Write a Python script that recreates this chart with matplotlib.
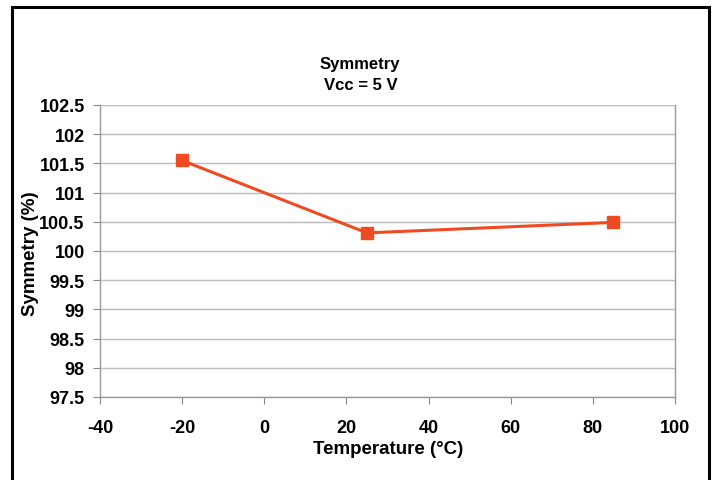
import matplotlib
matplotlib.use('Agg')
import matplotlib.pyplot as plt
from matplotlib.patches import Rectangle

# Data
temperature = [-20, 25, 85]
symmetry = [101.55, 100.31, 100.49]
x_ticks = [-40, -20, 0, 20, 40, 60, 80, 100]
y_ticks = [97.5, 98, 98.5, 99, 99.5, 100, 100.5, 101, 101.5, 102, 102.5]

plt.rcParams['font.family'] = ['Liberation Sans', 'DejaVu Sans']
plt.rcParams['font.weight'] = 'bold'
plt.rcParams['axes.unicode_minus'] = False

W, H = 715, 481
fig = plt.figure(figsize=(W / 100, H / 100), dpi=100)

# outer frame (bottom edge runs off the image)
fig.patches.append(Rectangle((12 / W, -0.05), 697 / W, 1.05 - 8 / H,
                             transform=fig.transFigure, fill=False,
                             edgecolor='black', linewidth=2.2, clip_on=False))

ax = fig.add_axes([100 / W, (H - 398) / H, 575 / W, 292 / H])

ax.plot(temperature, symmetry, color='#F04A23', linewidth=2.2,
        marker='s', markersize=8, zorder=3)

ax.set_xlim(-40, 100)
ax.set_ylim(97.5, 102.5)
ax.set_xticks(x_ticks)
ax.set_yticks(y_ticks)
ax.set_yticklabels(['97.5', '98', '98.5', '99', '99.5', '100', '100.5',
                    '101', '101.5', '102', '102.5'])
ax.tick_params(axis='both', labelsize=13, direction='out', length=5,
               color='#888888', width=0.8, pad=6)
ax.tick_params(axis='x', pad=11)
for lbl in ax.get_xticklabels() + ax.get_yticklabels():
    lbl.set_fontweight('bold')

ax.grid(axis='y', color='#BBBBBB', linewidth=1.0)
ax.set_axisbelow(True)
for side in ['left', 'bottom', 'right']:
    ax.spines[side].set_color('#999999')
    ax.spines[side].set_linewidth(1.0)
ax.spines['top'].set_visible(False)

fig.text(360 / W, 1 - 65 / H, 'Symmetry', ha='center', va='center',
         fontsize=12, fontweight='bold')
fig.text(361 / W, 1 - 86 / H, 'Vcc = 5 V', ha='center', va='center',
         fontsize=12, fontweight='bold')
fig.text(388 / W, 1 - 450 / H, 'Temperature (°C)', ha='center', va='center',
         fontsize=13.5, fontweight='bold')
fig.text(31 / W, 1 - 254 / H, 'Symmetry (%)', ha='center', va='center',
         rotation=90, fontsize=13.5, fontweight='bold')

fig.savefig('out.png', dpi=100)
